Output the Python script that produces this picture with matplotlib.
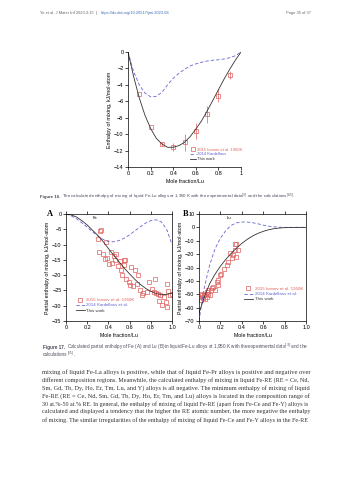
import matplotlib.pyplot as plt

plt.rcParams['font.family'] = ['Liberation Sans Narrow', 'Liberation Sans', 'DejaVu Sans']

RED = '#e0605e'
BLUE = '#6464d2'
BLK = '#333333'
CAP = '#4a4a5a'

# ---- Figure 16: enthalpy of mixing ----
x_grid = [0, 0.05, 0.1, 0.15, 0.2, 0.25, 0.3, 0.35, 0.4, 0.45, 0.5,
          0.55, 0.6, 0.65, 0.7, 0.75, 0.8, 0.85, 0.9, 0.95, 1.0]
h_this = [0, -3.0, -5.6, -7.7, -9.3, -10.5, -11.2, -11.6, -11.6, -11.4, -11.0,
          -10.3, -9.4, -8.4, -7.2, -5.9, -4.6, -3.3, -2.1, -1.0, 0]
h_kard = [0, -2.4, -4.0, -5.0, -5.45, -5.4, -4.9, -4.0, -3.2, -2.6, -2.1,
          -1.7, -1.45, -1.25, -1.1, -1.0, -0.95, -0.85, -0.7, -0.45, 0]
ivan_x = [0.1, 0.2, 0.3, 0.4, 0.5, 0.6, 0.7, 0.8, 0.9]
ivan_h = [-5.1, -9.1, -11.2, -11.6, -11.0, -9.6, -7.6, -5.3, -2.8]
ivan_err = [0.0, 0.0, 0.2, 0.5, 1.0, 1.0, 1.0, 0.8, 0.5]

# ---- Figure 17A: partial enthalpy of Fe ----
fe_this = [0, -0.3, -1.0, -2.2, -3.6, -5.3, -7.0, -9.0, -11.3, -13.5, -15.6,
           -17.7, -19.6, -21.4, -23.0, -24.3, -25.3, -26.0, -26.4, -26.3, -25.9]
fe_kard = [0, -0.6, -1.6, -2.9, -4.3, -5.8, -7.2, -8.3, -9.0, -9.1, -8.7,
           -7.9, -6.8, -5.5, -4.2, -3.0, -2.2, -1.9, -2.6, -5.0, -10.0]
fe_exp_x = [0.333, 0.325, 0.30, 0.374, 0.31, 0.35, 0.365, 0.39, 0.41, 0.43, 0.42,
            0.45, 0.47, 0.465, 0.49, 0.51, 0.52, 0.53, 0.55, 0.56, 0.55, 0.57,
            0.59, 0.60, 0.61, 0.63, 0.65, 0.67, 0.675, 0.70, 0.72, 0.73, 0.76,
            0.78, 0.81, 0.84, 0.83, 0.85, 0.865, 0.875, 0.89, 0.905, 0.92, 0.94,
            0.95, 0.95, 0.965, 0.98, 0.997]
fe_exp_h = [-5.25, -5.6, -8.2, -9.3, -12.4, -13.0, -14.7, -14.3, -16.5, -16.0, -12.4,
            -13.7, -13.1, -15.1, -17.1, -15.4, -18.4, -20.0, -15.2, -14.9, -16.7, -21.2,
            -22.4, -23.1, -17.2, -23.6, -18.2, -22.8, -20.0, -24.9, -26.5, -26.0, -25.5,
            -22.4, -24.4, -21.4, -25.5, -25.8, -26.1, -28.5, -26.6, -29.9, -27.1, -28.8,
            -30.5, -22.9, -25.1, -26.6, -26.2]

# ---- Figure 17B: partial enthalpy of Lu ----
lu_this = [-64, -52, -42, -35, -29, -24, -19.5, -15.5, -12, -9, -6.5,
           -4.5, -3, -1.8, -1.0, -0.5, -0.2, -0.1, 0, 0, 0]
lu_kard = [-70, -45, -28, -16, -8, -2.5, 1.5, 3.4, 4.0, 4.0, 3.5,
           2.7, 1.7, 0.9, 0.4, 0.1, 0, 0, 0, 0, 0]
lu_exp_x = [0.336, 0.35, 0.36, 0.336, 0.32, 0.346, 0.29, 0.305, 0.27, 0.26, 0.237,
            0.21, 0.196, 0.175, 0.165, 0.18, 0.134, 0.118, 0.112, 0.087, 0.072,
            0.056, 0.05, 0.087, 0.031, 0.025, 0.04, 0.072, 0.056, 0.019, 0.009,
            0.10, 0.15]
lu_exp_h = [-12.5, -12.5, -17, -17, -20.75, -22, -19.5, -23.25, -25.75, -28.25, -30.75,
            -34.5, -35.25, -39.5, -40.75, -43.25, -44.5, -45.25, -47, -47, -48.25,
            -49.5, -50.75, -49.5, -50.75, -52, -52.75, -52, -53.25, -54.5, -49.5,
            -50.75, -47]

body_lines = [
    "mixing of liquid Fe-La alloys is positive, while that of liquid Fe-Pr alloys is positive and negative over",
    "different composition regions. Meanwhile, the calculated enthalpy of mixing in liquid Fe-RE (RE = Ce, Nd,",
    "Sm, Gd, Tb, Dy, Ho, Er, Tm, Lu, and Y) alloys is all negative. The minimum enthalpy of mixing of liquid",
    "Fe-RE (RE = Ce, Nd, Sm, Gd, Tb, Dy, Ho, Er, Tm, and Lu) alloys is located in the composition range of",
    "30 at.%-50 at.% RE. In general, the enthalpy of mixing of liquid Fe-RE (apart from Fe-Ce and Fe-Y) alloys is",
    "calculated and displayed a tendency that the higher the RE atomic number, the more negative the enthalpy",
    "of mixing. The similar irregularities of the enthalpy of mixing of liquid Fe-Ce and Fe-Y alloys in the Fe-RE",
]

W, H = 353, 480
fig = plt.figure(figsize=(W / 100, H / 100), dpi=100)
tax = fig.add_axes([0, 0, 1, 1], zorder=-1)
tax.set_xlim(0, W)
tax.set_ylim(H, 0)
tax.axis('off')


def box(x0, y0, x1, y1):
    return [x0 / W, 1 - y1 / H, (x1 - x0) / W, (y1 - y0) / H]


def style(ax, fs=4):
    ax.tick_params(labelsize=fs, length=2, width=0.5, pad=1.2, direction='out')
    for s in ax.spines.values():
        s.set_linewidth(0.5)


def caption(x, y, bold, rest, size):
    t = tax.text(x, y, bold, fontsize=size, fontweight='bold', color=CAP,
                 family='Liberation Sans', va='baseline')
    tax.annotate(rest, xy=(1, y), xycoords=(t, 'data'), xytext=(1.2, 0),
                 textcoords='offset points', fontsize=size, color=CAP,
                 va='baseline', ha='left')


# header
tax.text(40, 13, "Ye et al. J Mater Inf 2023;3:15  |  ", fontsize=2.9,
         color='#666666', va='center')
tax.text(101, 13, "https://dx.doi.org/10.20517/jmi.2023.08", fontsize=2.9,
         color='#3d6fb6', va='center')
tax.text(311, 13, "Page 35 of 37", fontsize=2.9, color='#666666',
         va='center', ha='right')

# Figure 16
ax = fig.add_axes(box(128, 52, 241, 167))
ax.errorbar(ivan_x, ivan_h, yerr=ivan_err, fmt='none', ecolor=RED, elinewidth=0.5)
ax.plot(ivan_x, ivan_h, 's', mfc='none', mec=RED, color=RED, ms=3.2, mew=0.5,
        label='2015 Ivanov et al. 1950K')
ax.plot(x_grid, h_kard, '--', color=BLUE, lw=0.6, dashes=(4, 2.5),
        label='2014 Kardellass')
ax.plot(x_grid, h_this, '-', color=BLK, lw=0.6, label='This work')
ax.set_xlim(0, 1)
ax.set_ylim(-14, 0)
ax.set_xticks([0, 0.2, 0.4, 0.6, 0.8, 1.0])
ax.set_xticklabels(['0', '0.2', '0.4', '0.6', '0.8', '1'])
ax.set_yticks(range(-14, 1, 2))
ax.spines['top'].set_visible(False)
ax.spines['right'].set_visible(False)
style(ax)
ax.set_xlabel('Mole fraction/Lu', fontsize=3.8, labelpad=1.5)
ax.set_ylabel('Enthalpy of mixing, kJ/mol-atom', fontsize=3.8, labelpad=1.5)
ax.legend(loc='upper left', bbox_to_anchor=(0.53, 0.185), fontsize=3, frameon=False,
          borderpad=0, handlelength=1.4, handletextpad=0.4, labelspacing=0.15,
          labelcolor=[RED, BLUE, BLK])

caption(40, 198, "Figure 16.",
        r"The calculated enthalpy of mixing of liquid Fe-Lu alloys at 1,950 K "
        r"with the experimental data$^{[3]}$ and the calculations$^{[65]}$.", 3.15)

# Figure 17 A / B
axA = fig.add_axes(box(66, 214, 172, 321))
axB = fig.add_axes(box(199, 214, 306, 321))

axA.plot(fe_exp_x, fe_exp_h, 's', mfc='none', mec=RED, color=RED, ms=3.0, mew=0.5,
         label='2015 Ivanov et al. 1950K')
axA.plot(x_grid, fe_kard, '--', color=BLUE, lw=0.6, dashes=(4, 2.5),
         label='2014 Kardellass et al.')
axA.plot(x_grid, fe_this, '-', color=BLK, lw=0.6, label='This work')
axA.set_xlim(0, 1)
axA.set_ylim(-35, 0)
axA.set_yticks(range(-35, 1, 5))
axA.set_ylabel('Partial enthalpy of mixing, kJ/mol-atom', fontsize=3.8, labelpad=1.5)
axA.text(0.27, -1.4, 'Fe', fontsize=3, ha='center', va='center')
axA.legend(loc='upper left', bbox_to_anchor=(0.07, 0.235), fontsize=3.2, frameon=False,
           borderpad=0, handlelength=2.0, handletextpad=0.4, labelspacing=0.25,
           labelcolor=[RED, BLUE, BLK])

axB.plot(lu_exp_x, lu_exp_h, 's', mfc='none', mec=RED, color=RED, ms=3.0, mew=0.5,
         label='2015 Ivanov et al. 1950K')
axB.plot(x_grid, lu_kard, '--', color=BLUE, lw=0.6, dashes=(4, 2.5),
         label='2014 Kardellass et al.')
axB.plot(x_grid, lu_this, '-', color=BLK, lw=0.6, label='This work')
axB.set_xlim(0, 1)
axB.set_ylim(-70, 10)
axB.set_yticks(range(-70, 11, 10))
axB.set_ylabel('Partial enthalpy of mixing, kJ/mol-atom', fontsize=3.8, labelpad=1.5)
axB.text(0.28, 6.8, 'Lu', fontsize=3, ha='center', va='center')
axB.legend(loc='upper left', bbox_to_anchor=(0.40, 0.34), fontsize=3.2, frameon=False,
           borderpad=0, handlelength=2.0, handletextpad=0.4, labelspacing=0.25,
           labelcolor=[RED, BLUE, BLK])

for a in (axA, axB):
    a.set_xticks([0, 0.2, 0.4, 0.6, 0.8, 1.0])
    a.set_xticklabels(['0', '0.2', '0.4', '0.6', '0.8', '1.0'])
    a.tick_params(top=True)
    style(a)
    a.set_xlabel('Mole fraction/Lu', fontsize=3.8, labelpad=1.5)

tax.text(50, 214, 'A', fontsize=6, fontweight='bold', family='Liberation Serif',
         va='center', ha='center')
tax.text(186, 214, 'B', fontsize=6, fontweight='bold', family='Liberation Serif',
         va='center', ha='center')

caption(43, 348.5, "Figure 17.",
        r"Calculated partial enthalpy of Fe (A) and Lu (B) in liquid Fe-Lu alloys "
        r"at 1,950 K with the experimental data$^{[3]}$ and the", 3.3)
t2 = tax.text(43, 356, "calculations", fontsize=3.3, color=CAP, va='baseline')
t3 = tax.annotate("[65]", xy=(1, 356), xycoords=(t2, 'data'), xytext=(0.2, 1.4),
                  textcoords='offset points', fontsize=2.3, color=CAP, va='baseline')
tax.annotate(".", xy=(1, 356), xycoords=(t3, 'data'), xytext=(0.2, 0),
             textcoords='offset points', fontsize=3.3, color=CAP, va='baseline')

# body text: each line sized to fill the column from x=42 to x=311
x_left, x_right = 42, 311
base_fs = 4.5
body = [tax.text(x_left, 372 + 8 * i, line, fontsize=base_fs, family='Liberation Serif',
                 color='#333333', va='center') for i, line in enumerate(body_lines)]
fig.canvas.draw()
to_data = tax.transData.inverted()
for t in body:
    wdt = t.get_window_extent().transformed(to_data).width
    t.set_fontsize(min(base_fs * (x_right - x_left) / wdt, 5.0))

fig.savefig('out.png', dpi=100)
